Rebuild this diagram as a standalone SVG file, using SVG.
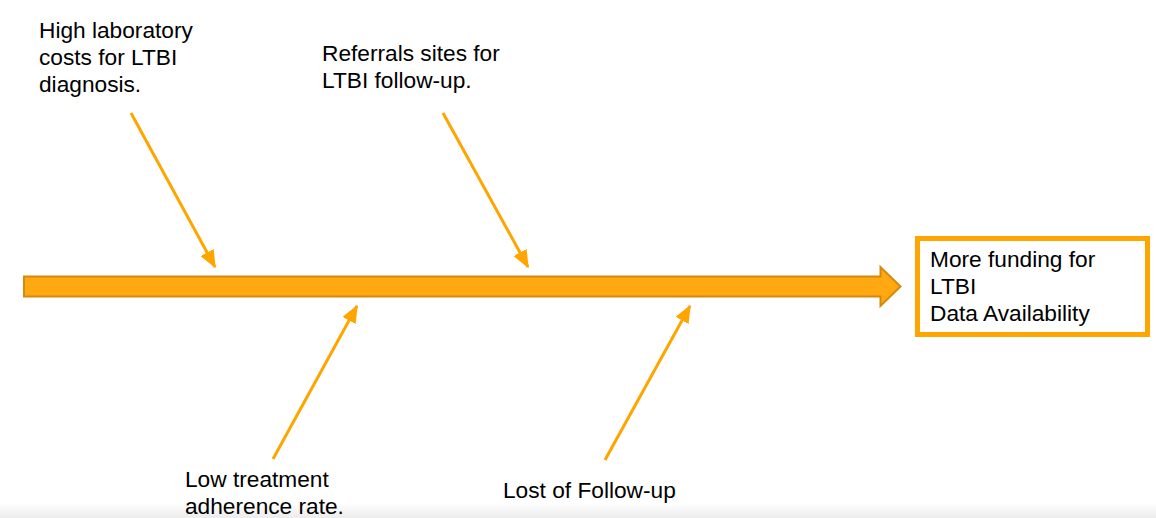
<svg xmlns="http://www.w3.org/2000/svg" width="1156" height="518" viewBox="0 0 1156 518">
<style>
text{font-family:"Liberation Sans",Arial,sans-serif;font-size:22.7px;fill:#000}
.c{stroke:#FFA500;stroke-width:3;fill:none}
</style>
<defs>
<marker id="ah" markerWidth="6" markerHeight="5" refX="5.5" refY="2.5" orient="auto" markerUnits="strokeWidth">
<path d="M0,0 L6,2.5 L0,5 Z" fill="#FFA500"/>
</marker>
<linearGradient id="bg" x1="0" y1="0" x2="0" y2="1">
<stop offset="0" stop-color="#ffffff"/>
<stop offset="1" stop-color="#ececec"/>
</linearGradient>
</defs>
<rect width="1156" height="518" fill="#fff"/>
<rect x="0" y="503" width="1156" height="15" fill="url(#bg)"/>
<g id="spine">
<path d="M24,276.5 H880.5 V267 L900.5,286.5 L880.5,306 V296.5 H24 Z" fill="#FFA812" stroke="#D4890C" stroke-width="2" stroke-linejoin="miter"/>
</g>
<g id="connectors">
<line class="c" x1="131" y1="113" x2="215" y2="267" marker-end="url(#ah)"/>
<line class="c" x1="443" y1="113" x2="528" y2="267" marker-end="url(#ah)"/>
<line class="c" x1="273" y1="459" x2="357" y2="306" marker-end="url(#ah)"/>
<line class="c" x1="605" y1="460" x2="690" y2="306" marker-end="url(#ah)"/>
</g>
<g id="effect">
<rect x="917.5" y="238.5" width="230" height="96" fill="#fff" stroke="#FFA500" stroke-width="5"/>
<text x="930" y="267">More funding for</text>
<text x="930" y="294">LTBI</text>
<text x="930" y="321">Data Availability</text>
</g>
<g id="cause-lab-costs">
<text x="39" y="38">High laboratory</text>
<text x="39" y="65">costs for LTBI</text>
<text x="39" y="92">diagnosis.</text>
</g>
<g id="cause-referrals">
<text x="322" y="61">Referrals sites for</text>
<text x="322" y="88">LTBI follow-up.</text>
</g>
<g id="cause-adherence">
<text x="185" y="487">Low treatment</text>
<text x="185" y="514">adherence rate.</text>
</g>
<g id="cause-lost">
<text x="503" y="498">Lost of Follow-up</text>
</g>
</svg>
